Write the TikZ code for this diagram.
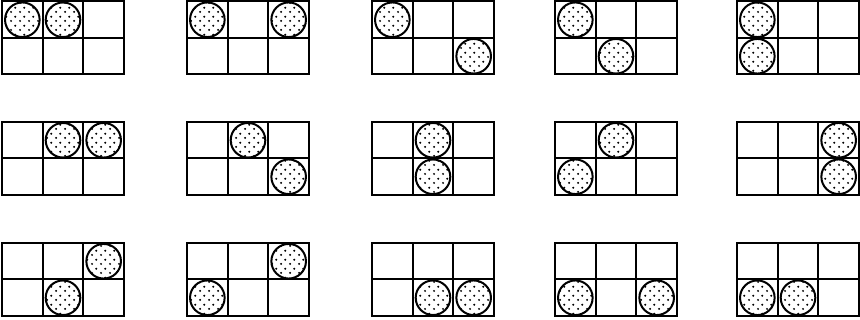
\documentclass[tikz,border=0pt]{standalone}
\usetikzlibrary{patterns.meta}
\tikzdeclarepattern{
  name=sdots,
  type=uncolored,
  bounding box={(0pt,0pt) and (9pt,9pt)},
  tile size={(9pt,9pt)},
  code={\fill (2.25pt,2.25pt) circle (1.2pt); \fill (6.75pt,6.75pt) circle (1.2pt);}
}
\tikzset{
  gridline/.style={line width=2pt, line cap=rect},
  ball/.style={line width=2pt, pattern=sdots, pattern color=black},
}
\newcommand\board[3]{%
  \begin{scope}[shift={(#1,#2)}]
    \draw[gridline] (0,0) rectangle (122,73);
    \draw[gridline] (0,36.5) -- (122,36.5) (40.67,0) -- (40.67,73) (81.33,0) -- (81.33,73);
    \foreach \c/\r in {#3} \draw[ball] ({(\c-0.5)*40.667},{(\r-0.5)*36.5}) circle (17.3);
  \end{scope}}
\begin{document}
\begin{tikzpicture}[x=1pt,y=-1pt]
\useasboundingbox[fill=white] (0,0) rectangle (860,320);
% row 1
\board{2}{1.5}{1/1,2/1}
\board{187}{1.5}{1/1,3/1}
\board{372}{1.5}{1/1,3/2}
\board{555}{1.5}{1/1,2/2}
\board{737}{1.5}{1/1,1/2}
% row 2
\board{2}{122}{2/1,3/1}
\board{187}{122}{2/1,3/2}
\board{372}{122}{2/1,2/2}
\board{555}{122}{2/1,1/2}
\board{737}{122}{3/1,3/2}
% row 3
\board{2}{243}{3/1,2/2}
\board{187}{243}{3/1,1/2}
\board{372}{243}{2/2,3/2}
\board{555}{243}{1/2,3/2}
\board{737}{243}{1/2,2/2}
\end{tikzpicture}
\end{document}
